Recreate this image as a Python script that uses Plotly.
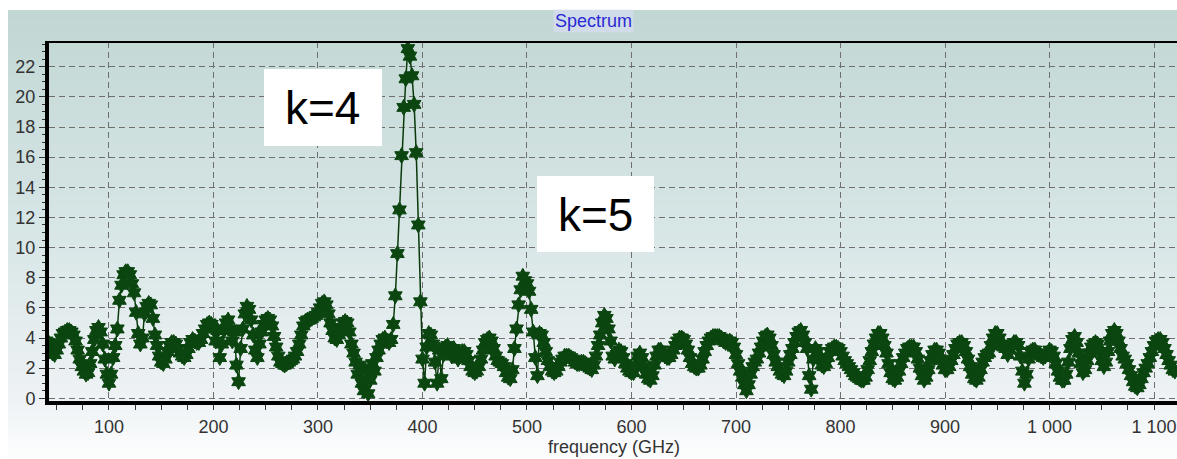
import plotly.graph_objects as go

W, H = 1177, 459

# ---------------- data ----------------
freq_start = 40      # GHz, first sample
freq_step = 2        # GHz between samples

amp_040_218 = [
    3.8, 3.7, 3.3, 3.0, 2.9, 3.2, 3.6, 4.0, 4.3, 4.4,
    4.5, 4.5, 4.4, 4.2, 3.8, 3.2, 2.6, 2.1, 1.8, 1.6,
    1.7, 2.3, 3.1, 3.9, 4.5, 4.7, 4.4, 3.6, 2.6, 1.6,
    1.0, 1.6, 2.7, 3.5, 4.6, 6.5, 7.5, 8.2, 8.4, 8.4,
    8.2, 7.6, 7.0, 5.7, 4.3, 3.6, 4.0, 5.6, 6.1, 6.3,
    6.2, 5.3, 4.2, 3.5, 2.8, 2.4, 2.3, 2.6, 3.1, 3.5,
    3.7, 3.7, 3.6, 3.3, 3.0, 2.8, 2.7, 2.9, 3.3, 3.7,
    3.9, 3.8, 3.7, 3.7, 3.9, 4.3, 4.6, 4.9, 5.0, 4.9,
    4.6, 3.8, 4.5, 2.7, 3.6, 4.5, 5.0, 5.2, 4.6, 3.8,
]
amp_220_398 = [
    4.4, 2.2, 1.1, 3.3, 4.6, 5.6, 6.1, 5.9, 5.2, 4.2,
    3.2, 2.7, 3.6, 4.4, 4.9, 5.2, 5.3, 5.2, 4.8, 4.1,
    3.4, 2.8, 2.4, 2.3, 2.2, 2.3, 2.4, 2.5, 2.6, 2.8,
    3.1, 3.6, 4.2, 4.8, 5.1, 5.2, 5.2, 5.3, 5.4, 5.5,
    5.7, 6.0, 6.3, 6.4, 6.2, 5.6, 5.0, 4.5, 4.0, 3.9,
    4.2, 4.7, 5.0, 5.1, 5.0, 4.4, 3.6, 3.0, 2.4, 1.6,
    2.2, 1.0, 0.5, 1.8, 0.3, 1.2, 2.3, 1.8, 2.7, 3.2,
    3.6, 3.9, 4.0, 3.8, 3.7, 3.9, 4.9, 6.8, 9.6, 12.5,
    16.1, 19.3, 21.2, 23.2, 22.7, 21.4, 19.5, 16.3, 11.5, 6.4,
]
amp_400_578 = [
    2.6, 1.0, 3.4, 4.3, 4.2, 3.6, 2.4, 1.0, 3.2, 1.3,
    2.9, 3.4, 3.5, 3.2, 2.8, 3.3, 3.1, 2.6, 2.8, 3.1,
    3.1, 2.9, 2.5, 2.1, 1.8, 1.7, 1.8, 2.1, 2.6, 3.2,
    3.7, 3.9, 4.0, 3.8, 3.3, 2.8, 2.5, 2.4, 2.3, 2.1,
    1.7, 1.4, 1.3, 1.9, 3.3, 4.6, 6.2, 7.2, 8.1, 7.8,
    7.6, 7.1, 5.9, 4.4, 2.7, 1.5, 4.3, 4.2, 3.7, 3.1,
    2.5, 2.1, 1.8, 1.7, 1.8, 2.1, 2.4, 2.6, 2.8, 2.8,
    2.8, 2.7, 2.6, 2.4, 2.3, 2.3, 2.4, 2.4, 2.3, 2.1,
    2.0, 1.9, 2.2, 2.8, 3.5, 4.2, 5.0, 5.5, 5.3, 4.6,
]
amp_580_758 = [
    3.8, 2.8, 2.6, 2.9, 3.2, 3.1, 2.7, 2.3, 2.0, 1.8,
    1.7, 1.7, 2.2, 2.8, 3.0, 2.7, 2.1, 1.6, 1.3, 1.2,
    1.5, 2.2, 2.8, 3.2, 3.2, 3.0, 2.8, 2.7, 2.7, 2.9,
    3.2, 3.5, 3.8, 4.0, 4.0, 3.9, 3.6, 3.2, 2.7, 2.3,
    2.1, 2.0, 2.0, 2.2, 2.6, 3.1, 3.5, 3.8, 4.0, 4.1,
    4.1, 4.1, 4.1, 4.0, 3.8, 3.7, 3.7, 3.8, 3.7, 3.4,
    2.9, 2.3, 1.8, 1.4, 0.9, 0.5, 0.9, 1.6, 2.1, 2.4,
    2.6, 3.0, 3.4, 3.8, 4.1, 4.2, 4.0, 3.5, 2.9, 2.4,
    2.1, 1.8, 1.6, 1.5, 1.8, 2.4, 2.9, 3.3, 3.7, 4.1,
]
amp_760_938 = [
    4.4, 4.5, 4.2, 3.7, 3.3, 1.5, 0.6, 2.6, 3.3, 3.1,
    2.6, 2.2, 2.1, 2.3, 2.7, 3.1, 3.3, 3.4, 3.4, 3.3,
    3.1, 2.8, 2.5, 2.3, 2.1, 1.9, 1.7, 1.5, 1.4, 1.3,
    1.2, 1.2, 1.4, 1.9, 2.5, 3.1, 3.6, 4.0, 4.3, 4.3,
    4.0, 3.5, 3.0, 2.3, 1.7, 1.3, 1.2, 1.4, 1.8, 2.3,
    2.7, 3.0, 3.3, 3.4, 3.4, 3.4, 3.1, 2.6, 2.0, 1.5,
    1.2, 1.4, 1.9, 2.5, 2.9, 3.2, 3.2, 3.0, 2.6, 2.2,
    1.9, 1.9, 2.1, 2.5, 2.9, 3.3, 3.6, 3.7, 3.7, 3.5,
    3.1, 2.6, 2.1, 1.6, 1.3, 1.2, 1.4, 1.9, 2.4, 2.7,
]
amp_940_1120 = [
    2.9, 3.0, 3.5, 4.0, 4.3, 4.3, 4.0, 3.6, 3.4, 3.3,
    2.9, 3.2, 3.5, 3.7, 3.7, 3.5, 2.8, 1.8, 1.0, 1.6,
    2.6, 3.1, 3.2, 3.2, 3.0, 2.9, 2.8, 2.7, 2.8, 3.0,
    3.2, 3.1, 2.8, 2.3, 1.8, 1.4, 1.2, 1.2, 1.6, 2.4,
    3.3, 3.9, 4.1, 3.7, 3.0, 2.3, 1.7, 1.9, 2.5, 3.0,
    3.4, 3.6, 3.7, 3.6, 3.1, 2.5, 2.1, 2.4, 3.1, 3.8,
    4.3, 4.5, 4.3, 3.8, 3.3, 2.8, 2.6, 2.3, 1.9, 1.5,
    1.1, 0.8, 0.7, 0.9, 1.3, 1.7, 2.0, 2.3, 2.7, 3.1,
    3.5, 3.8, 3.9, 3.9, 3.7, 3.3, 2.9, 2.5, 2.2, 1.9,
    1.8,
]

amplitude = amp_040_218 + amp_220_398 + amp_400_578 + amp_580_758 + amp_760_938 + amp_940_1120
frequency = [freq_start + freq_step * i for i in range(len(amplitude))]

x_tick_vals = [100, 200, 300, 400, 500, 600, 700, 800, 900, 1000, 1100]
x_tick_text = ["100", "200", "300", "400", "500", "600", "700", "800", "900", "1 000", "1 100"]
y_tick_vals = [0, 2, 4, 6, 8, 10, 12, 14, 16, 18, 20, 22]

title_text = "Spectrum"
x_title = "frequency (GHz)"
labels = ["k=4", "k=5"]

# ---------------- figure ----------------
FONT = "Liberation Sans, Arial, sans-serif"
fig = go.Figure()
fig.add_trace(go.Scatter(
    x=frequency, y=amplitude, mode="lines+markers",
    line=dict(color="#0a3a0c", width=1.5),
    marker=dict(symbol="hexagram", size=12, color="#0b4510",
                line=dict(width=1, color="#0b4510")),
    showlegend=False, hoverinfo="skip",
))

# gradient background panel (styling only)
def lerp(a, b, t):
    return tuple(round(a[i] + (b[i] - a[i]) * t) for i in range(3))

stops = [(10, (193, 215, 211)), (42, (196, 217, 214)), (220, (214, 229, 229)),
         (400, (238, 242, 245)), (459, (253, 254, 254))]

def grad(py):
    for (y0, c0), (y1, c1) in zip(stops[:-1], stops[1:]):
        if y0 <= py <= y1:
            return lerp(c0, c1, (py - y0) / (y1 - y0))
    return stops[-1][1]

shapes = []
step = 3
for py in range(10, H, step):
    c = grad(py + step / 2)
    shapes.append(dict(type="rect", xref="paper", yref="paper", layer="below",
                       x0=8 / W, x1=1, y0=1 - min(py + step, H) / H, y1=1 - py / H,
                       fillcolor="rgb(%d,%d,%d)" % c, line=dict(width=0)))
# top frame line
shapes.append(dict(type="line", xref="paper", yref="paper", x0=45 / W, x1=1,
                   y0=1 - 42 / H, y1=1 - 42 / H, line=dict(color="black", width=2)))
# white label boxes
shapes.append(dict(type="rect", xref="paper", yref="paper", x0=264 / W, x1=382 / W,
                   y0=1 - 146 / H, y1=1 - 69 / H, fillcolor="white", line=dict(width=0)))
shapes.append(dict(type="rect", xref="paper", yref="paper", x0=537 / W, x1=654 / W,
                   y0=1 - 252 / H, y1=1 - 176 / H, fillcolor="white", line=dict(width=0)))

annotations = [
    dict(text=title_text, xref="paper", yref="paper", x=593 / W, y=1 - 21 / H,
         showarrow=False, xanchor="center", yanchor="middle",
         font=dict(family=FONT, size=18, color="#2a2ad6"), bgcolor="rgba(220,224,248,0.55)"),
    dict(text=x_title, xref="paper", yref="paper", x=614 / W, y=1 - 447 / H,
         showarrow=False, xanchor="center", yanchor="middle",
         font=dict(family=FONT, size=18, color="#333333")),
    dict(text=labels[0], xref="paper", yref="paper", x=322 / W, y=1 - 108 / H,
         showarrow=False, xanchor="center", yanchor="middle",
         font=dict(family=FONT, size=46, color="black")),
    dict(text=labels[1], xref="paper", yref="paper", x=595 / W, y=1 - 215 / H,
         showarrow=False, xanchor="center", yanchor="middle",
         font=dict(family=FONT, size=46, color="black")),
]

fig.update_layout(
    width=W, height=H, margin=dict(l=0, r=0, t=0, b=0),
    paper_bgcolor="white", plot_bgcolor="rgba(0,0,0,0)",
    template="none", separators=". ",
    shapes=shapes, annotations=annotations,
    xaxis=dict(
        domain=[49 / W, 1], range=[42.6, 1122], automargin=False,
        showline=True, linewidth=4, linecolor="black", mirror=False,
        ticks="outside", ticklen=5, tickwidth=1, tickcolor="#333333",
        tickmode="array", tickvals=x_tick_vals, ticktext=x_tick_text,
        tickfont=dict(family=FONT, size=18, color="#333333"), ticklabelstandoff=1,
        showgrid=True, gridcolor="#6f6f6f", gridwidth=1, griddash="6px,4px",
        zeroline=False,
        minor=dict(tick0=0, dtick=25, ticks="outside", ticklen=5, tickwidth=1,
                   tickcolor="#333333", showgrid=False),
    ),
    yaxis=dict(
        domain=[1 - 401 / H, 1 - 42 / H], range=[-0.18, 23.64], automargin=False,
        showline=True, linewidth=4, linecolor="black",
        ticks="outside", ticklen=6, tickwidth=1, tickcolor="#333333",
        tickmode="array", tickvals=y_tick_vals,
        tickfont=dict(family=FONT, size=18, color="#333333"),
        showgrid=True, gridcolor="#6f6f6f", gridwidth=1, griddash="6px,4px",
        zeroline=False,
        minor=dict(tick0=0, dtick=0.5, ticks="outside", ticklen=3, tickwidth=1,
                   tickcolor="#333333", showgrid=False),
    ),
)

fig.write_html("out.html")
